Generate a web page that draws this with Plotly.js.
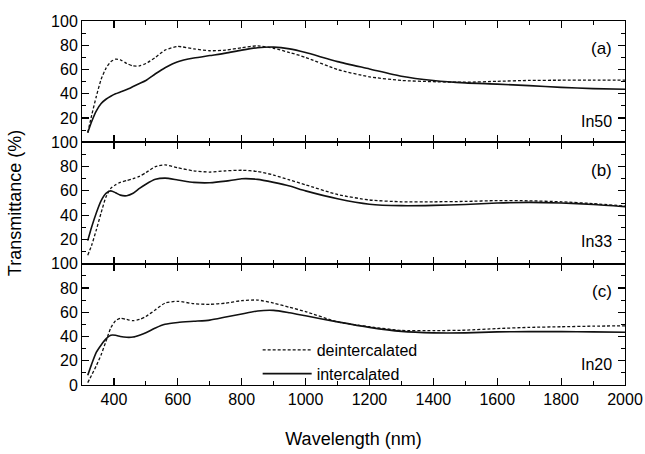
<!DOCTYPE html>
<html>
<head>
<meta charset="utf-8">
<script src="https://cdn.plot.ly/plotly-3.0.1.min.js"></script>
<style>html,body{margin:0;padding:0;background:#fff;}#chart{width:645px;height:454px;}</style>
</head>
<body>
<div id="chart"></div>
<script>
// Wavelength grid (nm)
var wavelength = [318,330,345,360,375,390,405,420,440,460,480,500,530,560,600,650,700,750,800,850,900,950,1000,1100,1200,1300,1400,1500,1600,1700,1800,1900,2000];

// Panel (a) In50
var deintA = [8,22,38,52,61,66.5,68.5,68,65,63,63,65,70,76,79,77,75.5,76,78,79.5,77.5,74,70,60,54,51,50,49.5,50.3,51,51.2,51.3,51.3];
var intA   = [8,17,26,32,35.5,38,40,41.5,43.5,46,48.5,51,56.5,61.5,66.5,69.5,71.5,73.5,76,78,78.5,77,74,66.5,60.5,54.5,51,49,48,46.7,45.3,44.3,43.7];

// Panel (b) In33
var deintB = [7,15,28,42,55,62,65,67,68.5,70,72,75,80,81.5,79,76.5,75.5,76.5,77,76,73,69,65,57,52.5,51,51,51.3,52,51.8,51,49.5,47.5];
var intB   = [19,30,42,52,58,60,58.5,56.5,56,58,62,65.5,69.5,70.5,69,67,66.7,68,70,69.5,67,64,60,53.5,49,47.8,48,48.7,50,50.5,50,48.8,47];

// Panel (c) In20
var deintC = [2,8,16,25,36,47,53,55,54,53,54,56.5,62,67.5,69,67,66.5,67.5,69.5,70,67.5,64,60.5,52,48,45,44.8,45.2,46.5,47.5,48,48.5,48.8];
var intC   = [8,17,27,33,38,41,41,40,39.3,39.5,41,43,47,50,51.5,52.5,53.5,56,58.5,61,61.5,59.5,57,52,47.5,44.2,43,43,43.8,44,44,43.8,43.5];

var seriesNames = ['deintercalated', 'intercalated'];
var panelLetters = ['(a)', '(b)', '(c)'];
var panelSamples = ['In50', 'In33', 'In20'];
var xTickVals = [400,600,800,1000,1200,1400,1600,1800,2000];
var yTickVals = [0,20,40,60,80,100];

var FONT = 'Liberation Sans, Arial, Helvetica, sans-serif';
var dashStyle = {color:'#111', width:1.3, dash:'3px,2px', shape:'spline', smoothing:0.6};
var solidStyle = {color:'#111', width:1.6, shape:'spline', smoothing:0.6};

var panels = [
  {d: deintA, i: intA, xa:'x3', ya:'y3'},
  {d: deintB, i: intB, xa:'x2', ya:'y2'},
  {d: deintC, i: intC, xa:'x',  ya:'y'}
];

var traces = [];
panels.forEach(function(p, k){
  var isLegend = (k === 2);
  traces.push({x: wavelength, y: p.d, xaxis: p.xa, yaxis: p.ya, mode:'lines', name: seriesNames[0],
    line: dashStyle, showlegend: isLegend, legendrank: 1});
  traces.push({x: wavelength, y: p.i, xaxis: p.xa, yaxis: p.ya, mode:'lines', name: seriesNames[1],
    line: solidStyle, showlegend: isLegend, legendrank: 2});
});

function xAxis(anchor, labels){
  return {
    anchor: anchor, range:[300,2000], showline:true, linecolor:'#000', linewidth:1, mirror:'ticks',
    ticks:'inside', ticklen:7, tickwidth:1.2, tickcolor:'#000', tickvals: xTickVals,
    showticklabels: labels, showgrid:false, zeroline:false,
    tickfont:{family:FONT, size:16, color:'#000'},
    minor:{ticks:'inside', dtick:100, tick0:300, ticklen:4, tickwidth:1, tickcolor:'#000', showgrid:false}
  };
}
function yAxis(anchor, domain, showZero){
  var txt = yTickVals.map(function(v){ return (v === 0 && !showZero) ? '' : String(v); });
  return {
    anchor: anchor, domain: domain, range:[0,100], showline:true, linecolor:'#000', linewidth:1, mirror:'ticks',
    ticks:'inside', ticklen:7, tickwidth:1.2, tickcolor:'#000', tickvals: yTickVals, ticktext: txt,
    showgrid:false, zeroline:false, tickfont:{family:FONT, size:16, color:'#000'},
    minor:{ticks:'inside', dtick:10, ticklen:4, tickwidth:1, tickcolor:'#000', showgrid:false}
  };
}

var layout = {
  width:645, height:454,
  margin:{l:82, r:20, t:21, b:69},
  paper_bgcolor:'#fff', plot_bgcolor:'#fff',
  font:{family:FONT, color:'#000'},
  xaxis: Object.assign(xAxis('y', true), {title:{text:'Wavelength (nm)', font:{family:FONT, size:18, color:'#000'}, standoff:25}}),
  xaxis2: Object.assign(xAxis('y2', false), {matches:'x'}),
  xaxis3: Object.assign(xAxis('y3', false), {matches:'x'}),
  yaxis: yAxis('x', [0, 1/3], true),
  yaxis2: Object.assign(yAxis('x2', [1/3, 2/3], false), {title:{text:'Transmittance (%)', font:{family:FONT, size:18, color:'#000'}, standoff:24}}),
  yaxis3: yAxis('x3', [2/3, 1], false),
  showlegend:true,
  legend:{x:0.3235, y:0.143, xanchor:'left', yanchor:'top', bgcolor:'rgba(0,0,0,0)', borderwidth:0,
    font:{family:FONT, size:16, color:'#000'}, tracegroupgap:0, itemwidth:49},
  annotations: []
};

var axPairs = [['x3','y3'],['x2','y2'],['x','y']];
var letterY = [77, 77, 77];
var sampleY = [17.5, 18, 17];
axPairs.forEach(function(p, k){
  layout.annotations.push({xref:p[0], yref:p[1], x:1965, y:letterY[k], text:panelLetters[k], showarrow:false,
    xanchor:'right', yanchor:'middle', font:{family:FONT, size:17, color:'#000'}});
  layout.annotations.push({xref:p[0], yref:p[1], x:1965, y:sampleY[k], text:panelSamples[k], showarrow:false,
    xanchor:'right', yanchor:'middle', font:{family:FONT, size:16, color:'#000'}});
});

Plotly.newPlot('chart', traces, layout, {displayModeBar:false, staticPlot:true});
</script>
</body>
</html>
